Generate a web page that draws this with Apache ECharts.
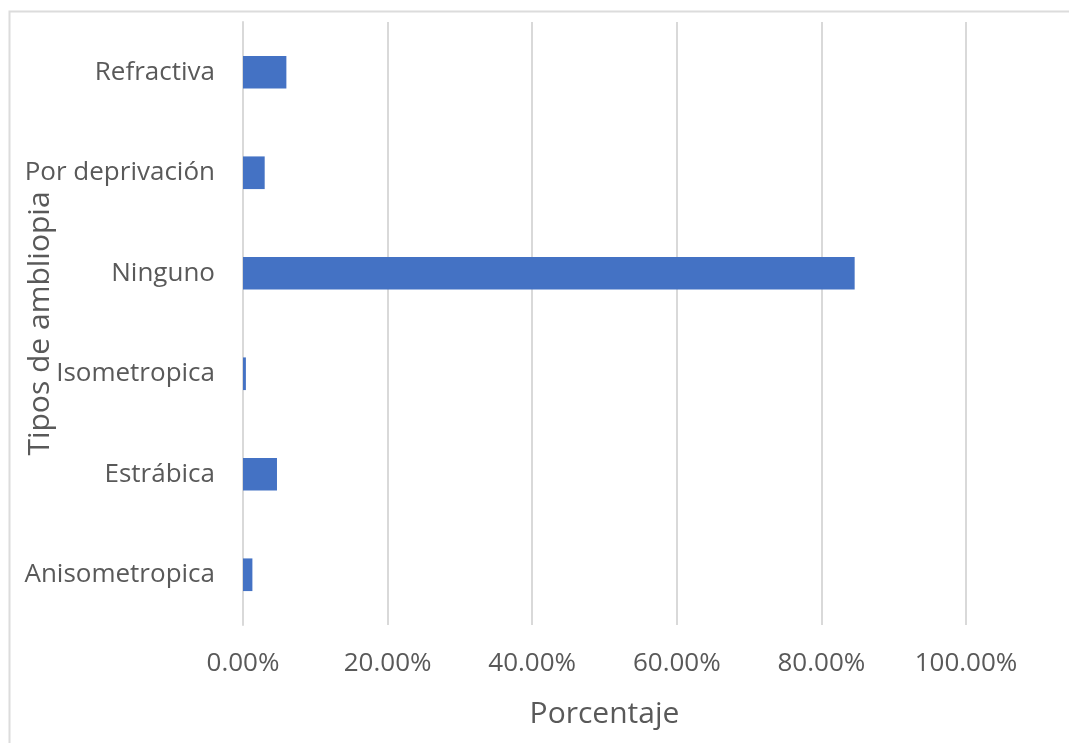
<!DOCTYPE html>
<html>
<head>
<meta charset="utf-8">
<script src="https://cdn.jsdelivr.net/npm/echarts@6/dist/echarts.min.js"></script>
<style>
  html, body { margin: 0; padding: 0; background: #ffffff; }
  #chart { width: 1069px; height: 743px; }
</style>
</head>
<body>
<div id="chart"></div>
<script>
// Amblyopia types, bottom to top on the category axis
const categories = ['Anisometropica', 'Estrábica', 'Isometropica', 'Ninguno', 'Por deprivación', 'Refractiva'];
// Share of cases for each type (percent)
const percentages = [1.3, 4.7, 0.4, 84.6, 3.0, 6.0];
// Value-axis ticks (percent)
const xTicks = [0, 20, 40, 60, 80, 100];

const textColor = '#595959';
const gridColor = '#d9d9d9';
const font = '"Open Sans", "DejaVu Sans", sans-serif';

const chart = echarts.init(document.getElementById('chart'), null, { renderer: 'canvas' });

chart.setOption({
  animation: false,
  backgroundColor: '#ffffff',
  graphic: [{
    type: 'rect',
    shape: { x: 9.5, y: 11.5, width: 1200, height: 900 },
    style: { fill: 'none', stroke: '#dcdcdc', lineWidth: 2 },
    silent: true
  }],
  grid: {
    left: 243, right: 103, top: 22, bottom: 118,
    containLabel: false,
    outerBoundsMode: 'none'
  },
  xAxis: {
    type: 'value',
    min: xTicks[0],
    max: xTicks[xTicks.length - 1],
    interval: xTicks[1] - xTicks[0],
    axisLine: { show: false },
    axisTick: { show: false },
    splitLine: { show: true, lineStyle: { color: gridColor, width: 2 } },
    axisLabel: {
      color: textColor,
      fontFamily: font,
      fontSize: 26,
      margin: 26,
      formatter: v => v.toFixed(2) + '%'
    },
    name: 'Porcentaje',
    nameLocation: 'middle',
    nameGap: 74,
    nameMoveOverlap: false,
    nameTextStyle: { color: textColor, fontFamily: font, fontSize: 30 }
  },
  yAxis: {
    type: 'category',
    data: categories,
    axisLine: { show: true, lineStyle: { color: gridColor, width: 2 } },
    axisTick: { show: false },
    axisLabel: { color: textColor, fontFamily: font, fontSize: 26, margin: 28 },
    name: 'Tipos de ambliopia',
    nameLocation: 'middle',
    nameGap: 188,
    nameRotate: 90,
    nameMoveOverlap: false,
    nameTextStyle: { color: textColor, fontFamily: font, fontSize: 30 }
  },
  series: [{
    type: 'bar',
    data: percentages,
    barWidth: '32.5%',
    itemStyle: { color: '#4472c4' }
  }]
});
</script>
</body>
</html>
